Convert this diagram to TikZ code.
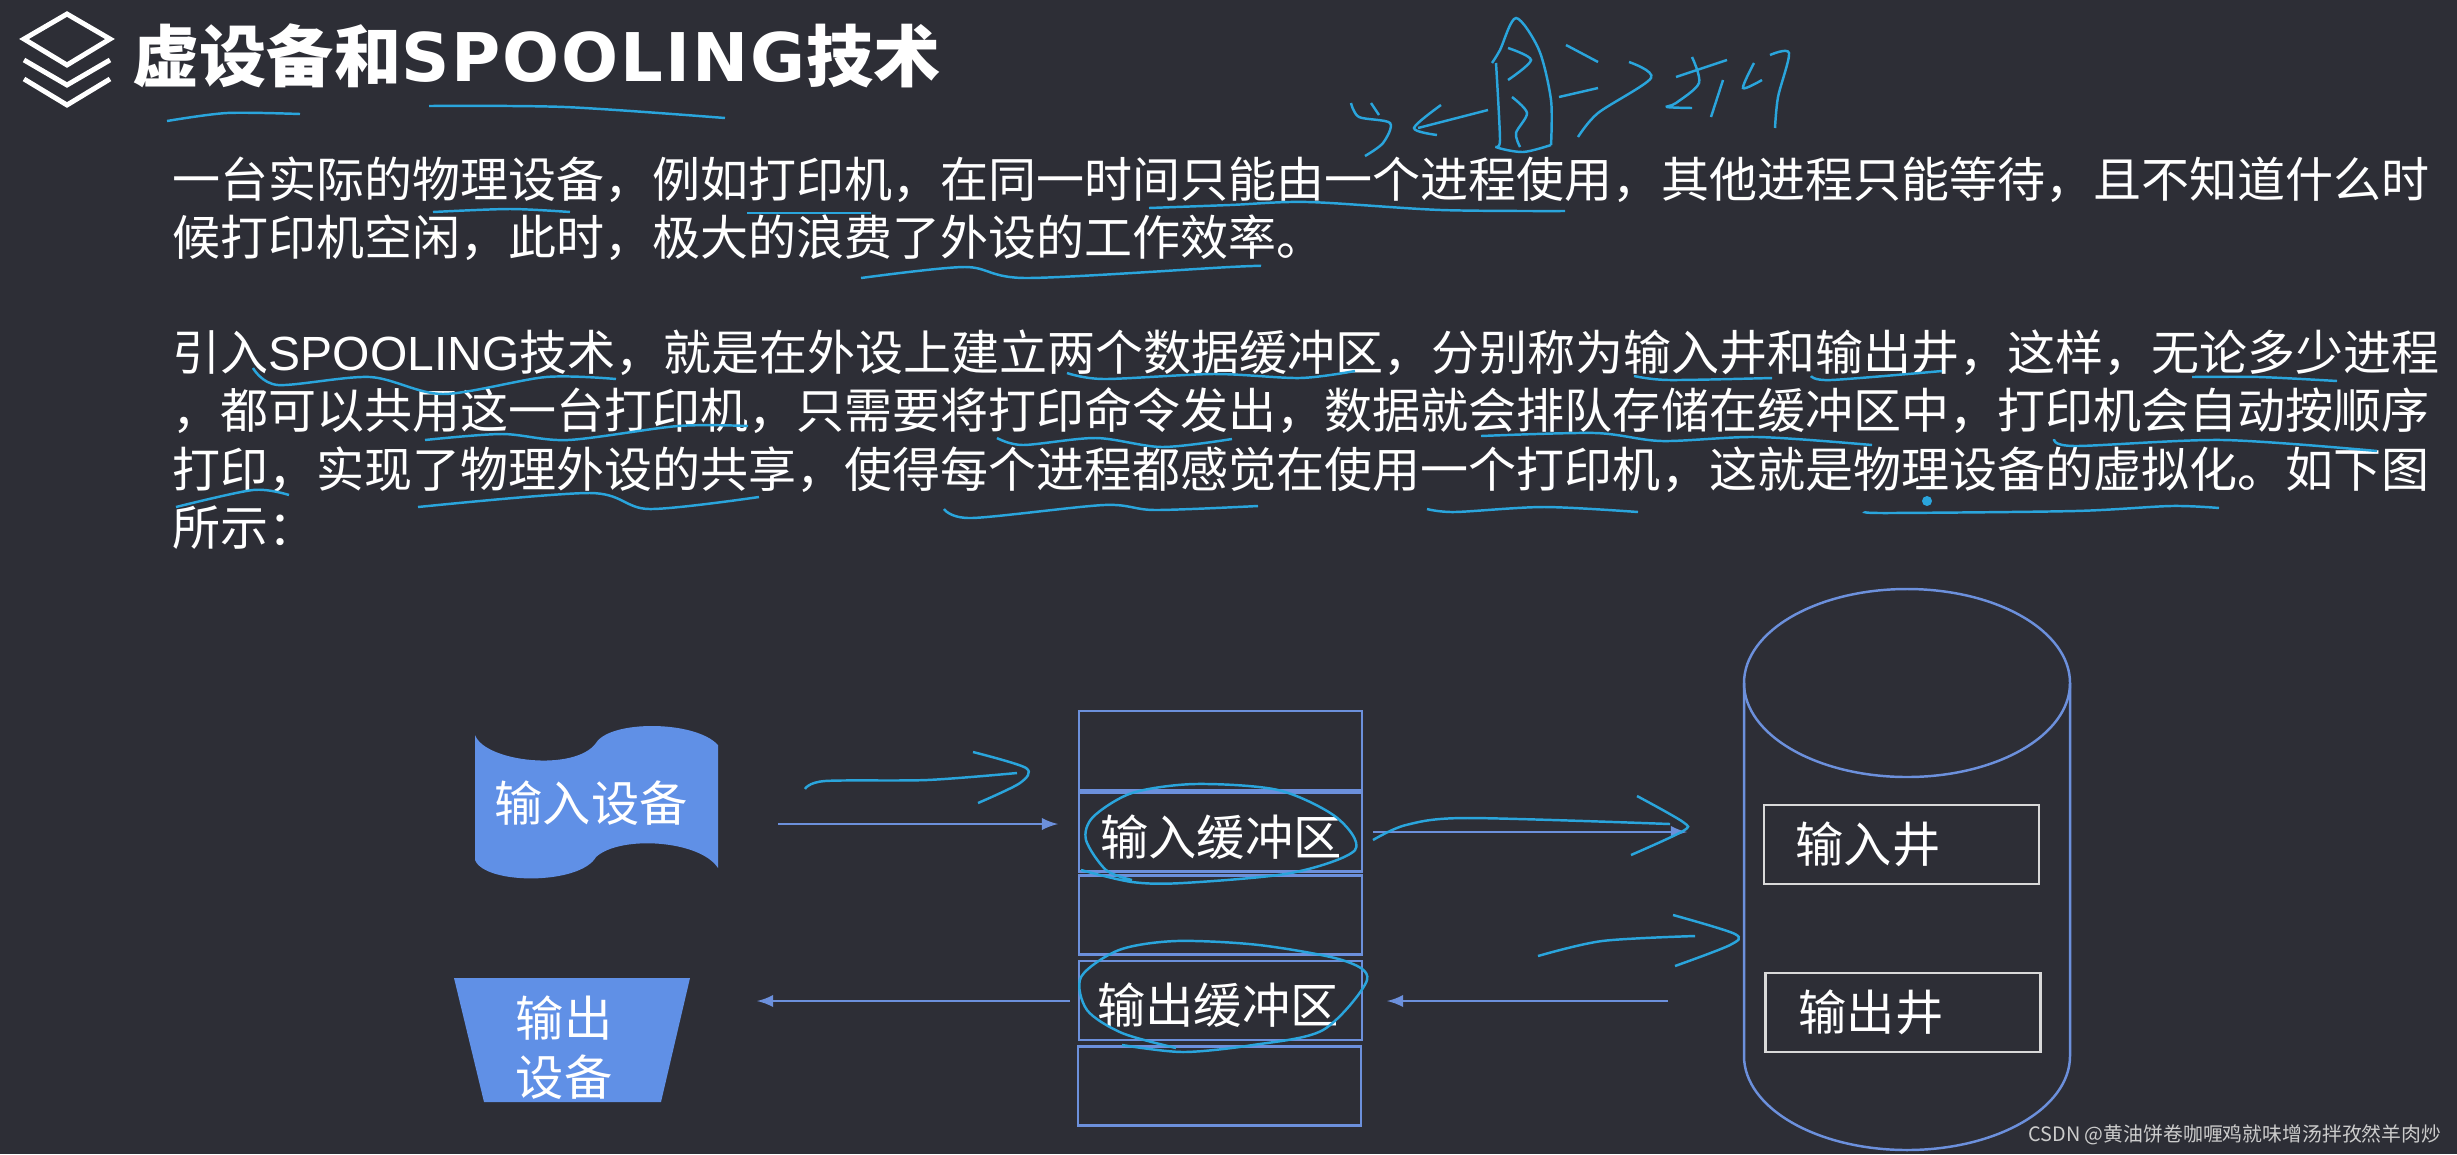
\documentclass[tikz,border=0pt]{standalone}
\usepackage{fontspec}
\setmainfont{Noto Sans CJK SC}
\newfontfamily\spacedfont[LetterSpace=3]{DejaVu Sans}
\newfontfamily\arialfont{Liberation Sans}
\definecolor{slidebg}{HTML}{2D2E36}
\definecolor{devblue}{HTML}{6090E6}
\definecolor{lineblue}{HTML}{6C90DC}
\definecolor{handink}{HTML}{2AA5DC}
\tikzset{
  titletext/.style={anchor=base west, inner sep=0, text=white, font=\fontsize{19.1}{22}\selectfont\bfseries},
  bodytext/.style={anchor=base west, inner sep=0, text=white, font=\fontsize{13.66}{16}\selectfont},
  boxtext/.style={inner sep=0, text=white, font=\fontsize{13.74}{16}\selectfont},
  bufcell/.style={draw=lineblue, line width=0.8pt, minimum width=2.83cm, minimum height=0.79cm, inner sep=0},
  wellbox/.style={draw=white!85!black, line width=0.7pt, minimum width=2.75cm, minimum height=0.79cm, inner sep=0},
  flowline/.style={draw=lineblue, line width=0.6pt, -latex},
  handline/.style={draw=handink, line width=0.7pt},
  iconline/.style={draw=white, line width=1.4pt}
}

\begin{document}
\begin{tikzpicture}[y=-1cm]

\useasboundingbox (0,0) rectangle (24.57,11.54);
\fill [slidebg] (0,0) rectangle (24.57,11.54);

% title
\draw [iconline] (0.67,0.14) -- (1.10,0.39) -- (0.67,0.65) -- (0.24,0.39) -- cycle;
\draw [iconline] (0.24,0.60) -- (0.67,0.85) -- (1.10,0.60);
\draw [iconline] (0.24,0.79) -- (0.67,1.05) -- (1.10,0.79);
\node [titletext] (title) at (1.32,0.81) {虚设备和{\spacedfont\bfseries SPOOLING}技术};

% text
\node [bodytext] (para1a) at (1.72,1.97) {一台实际的物理设备，例如打印机，在同一时间只能由一个进程使用，其他进程只能等待，且不知道什么时};
\node [bodytext] (para1b) at (1.72,2.55) {候打印机空闲，此时，极大的浪费了外设的工作效率。};
\node [bodytext] (para2a) at (1.72,3.70) {引入{\arialfont SPOOLING}技术，就是在外设上建立两个数据缓冲区，分别称为输入井和输出井，这样，无论多少进程};
\node [bodytext] (para2b) at (1.72,4.28) {，都可以共用这一台打印机，只需要将打印命令发出，数据就会排队存储在缓冲区中，打印机会自动按顺序};
\node [bodytext] (para2c) at (1.72,4.87) {打印，实现了物理外设的共享，使得每个进程都感觉在使用一个打印机，这就是物理设备的虚拟化。如下图};
\node [bodytext] (para2d) at (1.72,5.45) {所示：};

% devices
\fill [devblue] (4.75,7.35) .. controls (4.85,7.62) and (5.75,7.72) .. (5.96,7.43) .. controls (6.10,7.20) and (6.95,7.20) .. (7.18,7.45) -- (7.18,8.68) .. controls (7.00,8.40) and (6.20,8.35) .. (5.96,8.57) .. controls (5.80,8.85) and (4.85,8.85) .. (4.75,8.60) -- cycle;
\node [boxtext] (indev) at (5.91,8.03) {输入设备};
\fill [devblue] (4.54,9.78) -- (6.90,9.78) -- (6.61,11.02) -- (4.84,11.02) -- cycle;
\node [boxtext] (outdev1) at (5.64,10.18) {输出};
\node [boxtext] (outdev2) at (5.64,10.77) {设备};

% buffer stack
\node [bufcell] (cella) at (12.205,7.505) {};
\node [bufcell] (cellb) at (12.205,8.32) {};
\node [bufcell] (cellc) at (12.205,9.15) {};
\node [bufcell] (celld) at (12.205,10.005) {};
\node [bufcell] (celle) at (12.195,10.86) {};
\node [boxtext] (inbuf) at (12.21,8.37) {输入缓冲区};
\node [boxtext] (outbuf) at (12.18,10.05) {输出缓冲区};

% disk
\draw [lineblue, line width=0.7pt] (19.07,6.83) circle [x radius=1.63cm, y radius=0.94cm];
\draw [lineblue, line width=0.7pt] (17.44,6.83) -- (17.44,10.56) arc [start angle=180, end angle=360, x radius=1.63cm, y radius=0.94cm] -- (20.70,6.83);
\node [wellbox] (inwell) at (19.015,8.445) {};
\node [wellbox] (outwell) at (19.03,10.125) {};
\node [boxtext] (inwelltext) at (18.68,8.44) {输入井};
\node [boxtext] (outwelltext) at (18.71,10.12) {输出井};

% arrows
\coordinate (indevout) at (7.78,8.24);
\coordinate (inbufin) at (10.58,8.24);
\coordinate (inbufout) at (13.73,8.32);
\coordinate (inwellin) at (16.87,8.32);
\coordinate (outwellout) at (16.68,10.01);
\coordinate (outbufin) at (13.87,10.01);
\coordinate (outbufout) at (10.70,10.01);
\coordinate (outdevin) at (7.57,10.01);
\draw [flowline] (indevout) -- (inbufin);
\draw [flowline] (inbufout) -- (inwellin);
\draw [flowline] (outwellout) -- (outbufin);
\draw [flowline] (outbufout) -- (outdevin);

% pen strokes
\draw [handline] plot [smooth] coordinates {(1.67,1.21) (2.27,1.13) (3.00,1.14)};
\draw [handline] plot [smooth] coordinates {(4.29,1.06) (5.65,1.07) (7.25,1.18)};
\draw [handline] plot [smooth] coordinates {(4.33,2.12) (5.10,2.09) (5.70,2.12)};
\draw [handline] plot [smooth] coordinates {(7.47,2.13) (8.71,2.13)};
\draw [handline] plot [smooth] coordinates {(11.49,2.08) (12.30,2.05) (13.08,2.02) (14.41,2.10) (15.65,2.11)};
\draw [handline] plot [smooth] coordinates {(8.61,2.78) (9.65,2.67) (10.27,2.78) (12.30,2.67) (12.61,2.66)};
\draw [handline] plot [smooth] coordinates {(2.53,3.68) (2.78,3.85) (3.70,3.77) (4.43,3.94) (5.46,3.77) (6.16,3.79)};
\draw [handline] plot [smooth] coordinates {(10.67,3.73) (11.04,3.79) (12.14,3.74) (13.00,3.78) (13.55,3.71)};
\draw [handline] plot [smooth] coordinates {(16.34,3.76) (16.69,3.80) (17.72,3.78)};
\draw [handline] plot [smooth] coordinates {(18.11,3.76) (18.31,3.80) (19.42,3.71)};
\draw [handline] plot [smooth] coordinates {(21.92,3.77) (22.59,3.77) (23.37,3.81)};
\draw [handline] plot [smooth] coordinates {(4.25,4.40) (5.02,4.34) (5.68,4.40) (6.78,4.26) (7.48,4.26)};
\draw [handline] plot [smooth] coordinates {(9.97,4.38) (10.23,4.45) (10.96,4.38) (11.62,4.47) (12.32,4.39)};
\draw [handline] plot [smooth] coordinates {(14.81,4.36) (15.95,4.33) (16.62,4.41) (17.58,4.37) (18.72,4.45)};
\draw [handline] plot [smooth] coordinates {(20.54,4.39) (20.75,4.46) (22.23,4.40) (23.77,4.51)};
\draw [handline] plot [smooth] coordinates {(1.76,5.07) (2.53,4.90) (2.89,4.95)};
\draw [handline] plot [smooth] coordinates {(4.18,5.07) (5.90,4.93) (6.49,5.09) (7.59,4.97)};
\draw [handline] plot [smooth] coordinates {(9.44,5.09) (9.72,5.18) (11.04,5.05) (11.55,5.10) (12.58,5.06)};
\draw [handline] plot [smooth] coordinates {(14.27,5.09) (14.55,5.12) (15.44,5.07) (16.38,5.12)};
\draw [handline] plot [smooth] coordinates {(18.65,5.12) (18.90,5.13) (20.75,5.11) (21.71,5.06) (22.19,5.08)};
\fill [handink] (19.27,5.01) circle [radius=0.05];

% pen note at the top
\draw [handline] plot [smooth] coordinates {(13.51,1.03) (13.59,1.17) (13.90,1.23) (13.83,1.43) (13.65,1.56)};
\draw [handline] (13.71,1.03) -- (13.79,1.15);
\draw [handline] (14.88,1.10) -- (14.18,1.28);
\draw [handline] plot [smooth] coordinates {(14.41,1.05) (14.14,1.28) (14.37,1.35)};
\draw [handline] plot [smooth] coordinates {(14.92,0.63) (15.00,0.50) (15.16,0.18) (15.39,0.50) (15.51,1.00) (15.51,1.45)};
\draw [handline] plot [smooth] coordinates {(14.96,0.63) (15.00,1.40) (14.96,1.47) (15.23,1.52) (15.51,1.45)};
\draw [handline] plot [smooth] coordinates {(15.08,0.48) (15.31,0.60) (15.08,0.80)};
\draw [handline] plot [smooth] coordinates {(15.12,0.97) (15.27,1.13) (15.16,1.33) (15.20,1.47)};
\draw [handline] (15.66,0.45) -- (15.98,0.62);
\draw [handline] (15.59,0.97) -- (15.98,0.88);
\draw [handline] plot [smooth] coordinates {(16.29,0.62) (16.51,0.78) (15.98,1.13) (15.78,1.37)};
\draw [handline] (16.76,0.77) -- (17.27,0.60);
\draw [handline] plot [smooth] coordinates {(16.92,0.57) (16.99,0.83) (16.76,1.03) (16.67,1.07) (16.92,1.08)};
\draw [handline] (17.23,0.80) -- (17.11,1.17);
\draw [handline] plot [smooth] coordinates {(17.54,0.63) (17.43,0.88) (17.62,0.80)};
\draw [handline] plot [smooth] coordinates {(17.70,0.55) (17.89,0.53) (17.78,0.97) (17.75,1.28)};

% pen arrows in the diagram
\draw [handline] plot [smooth] coordinates {(8.05,7.89) (8.25,7.81) (9.27,7.80) (10.17,7.73)};
\draw [handline] plot [smooth] coordinates {(9.73,7.52) (10.26,7.68) (10.20,7.83) (9.78,8.03)};
\draw [handline] plot [smooth] coordinates {(13.73,8.40) (14.06,8.25) (14.67,8.18) (16.70,8.24)};
\draw [handline] plot [smooth] coordinates {(16.37,7.96) (16.83,8.22) (16.83,8.31) (16.31,8.55)};
\draw [handline] plot [smooth] coordinates {(15.38,9.56) (16.02,9.41) (16.95,9.36)};
\draw [handline] plot [smooth] coordinates {(16.73,9.15) (17.35,9.34) (17.30,9.45) (16.75,9.66)};

% circled buffers
\draw [handline] plot [smooth] coordinates {(10.81,8.70) (11.32,8.82) (11.83,8.83) (12.91,8.73) (13.55,8.50) (13.36,8.17) (12.78,7.90) (11.95,7.84) (11.32,7.93) (10.93,8.17) (10.86,8.40) (11.06,8.70) (11.32,8.80)};
\draw [handline] plot [smooth] coordinates {(11.22,10.45) (11.83,10.52) (12.53,10.45) (13.23,10.30) (13.67,9.80) (13.42,9.60) (12.59,9.45) (11.76,9.41) (11.19,9.50) (10.81,9.77) (10.87,10.10) (11.22,10.33) (11.76,10.48)};

\node [inner sep=0, text=white!80!black, font=\fontsize{5.65}{7}\selectfont, anchor=east] (mark) at (24.42,11.35) {CSDN @黄油饼卷咖喱鸡就味增汤拌孜然羊肉炒};

\end{tikzpicture}
\end{document}
